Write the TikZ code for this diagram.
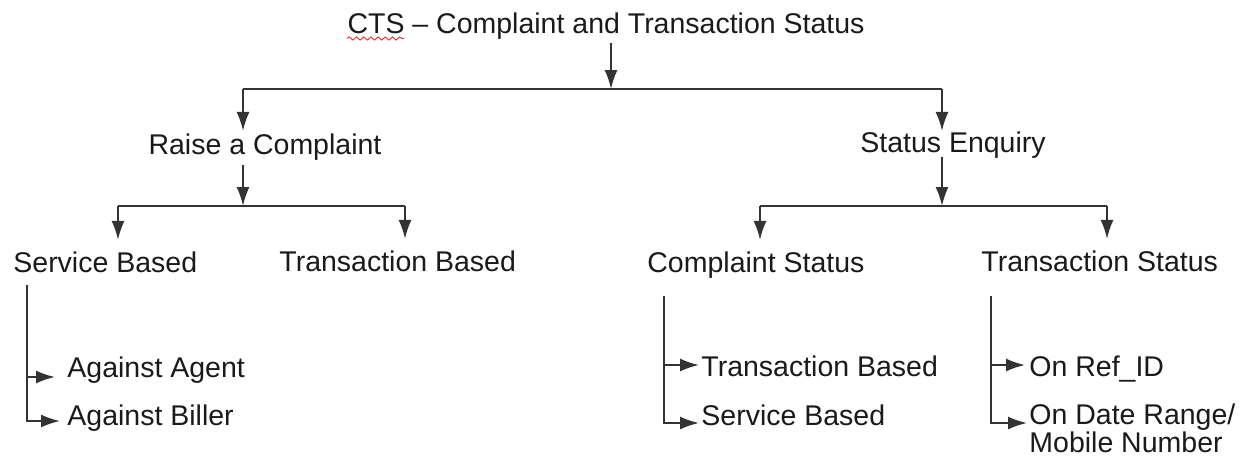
\documentclass[tikz,border=0pt]{standalone}
\usepackage{fontspec}
\setmainfont{Liberation Sans}
\usetikzlibrary{arrows.meta,decorations.pathmorphing}
\definecolor{txt}{HTML}{1A1A1A}
\definecolor{ln}{HTML}{333333}
\tikzset{
  lbl/.style={inner sep=0pt, text=txt, font=\fontsize{14.25}{14.25}\selectfont},
  conn/.style={draw=ln, line width=1pt},
  arr/.style={conn, -{Latex[length=9.5pt,width=6.5pt]}},
  spell/.style={draw=red!85, line width=0.45pt, decorate, decoration={snake, amplitude=0.8pt, segment length=3.6pt}}
}
\begin{document}
\begin{tikzpicture}[x=0.5pt,y=-0.5pt]
\path[use as bounding box, fill=white] (0,0) rectangle (1245,457);

% nodes
\node[lbl, anchor=base] (title) at (606,33) {CTS – Complaint and Transaction Status};
\node[lbl, anchor=base] (raise) at (265,154) {Raise a Complaint};
\node[lbl, anchor=base] (status) at (953,152) {Status Enquiry};
\node[lbl, anchor=base west] (sb) at (13,272) {Service Based};
\node[lbl, anchor=base west] (tb) at (279,271) {Transaction Based};
\node[lbl, anchor=base west] (cs) at (647,272) {Complaint Status};
\node[lbl, anchor=base west] (ts) at (981,271) {Transaction Status};
\node[lbl, anchor=base west] (aa) at (67,377) {Against Agent};
\node[lbl, anchor=base west] (ab) at (67,425) {Against Biller};
\node[lbl, anchor=base west] (ctb) at (701,376) {Transaction Based};
\node[lbl, anchor=base west] (csb) at (701,425) {Service Based};
\node[lbl, anchor=base west] (ref) at (1029,376) {On Ref\_ID};
\node[lbl, anchor=base west] (dr) at (1029,424) {On Date Range/};
\node[lbl, anchor=base west] (mob) at (1029,452) {Mobile Number};

% spell-check mark under CTS
\coordinate (sp1) at (347,38.5);
\coordinate (sp2) at (404,38.5);
\draw[spell] (sp1) -- (sp2);

% junction coordinates
\coordinate (j0) at (611,89);
\coordinate (jl) at (243,89);
\coordinate (jr) at (942,89);
\coordinate (k1) at (243,206);
\coordinate (k1l) at (118,206);
\coordinate (k1r) at (405,206);
\coordinate (k2) at (942,206);
\coordinate (k2l) at (760,206);
\coordinate (k2r) at (1107,206);
\coordinate (t1) at (27,285);
\coordinate (t2) at (664,296);
\coordinate (t3) at (991,296);

% level 1
\draw[arr] ([yshift=-2pt]title.south -| j0) -- (j0);
\draw[conn] (jl) -- (jr);
\draw[arr] (jl) -- ([yshift=1pt]jl |- raise.north);
\draw[arr] (jr) -- (jr |- status.north);

% level 2 left
\draw[arr] ([yshift=-2.5pt]raise.south -| k1) -- (k1);
\draw[conn] (k1l) -- (k1r);
\draw[arr] (k1l) -- ([yshift=5.5pt]k1l |- sb.north);
\draw[arr] (k1r) -- ([yshift=5.5pt]k1r |- tb.north);

% level 2 right
\draw[arr] ([yshift=0.5pt]status.south -| k2) -- (k2);
\draw[conn] (k2l) -- (k2r);
\draw[arr] (k2l) -- ([yshift=5.5pt]k2l |- cs.north);
\draw[arr] (k2r) -- ([yshift=5.5pt]k2r |- ts.north);

% sub branches
\draw[arr] (t1) |- ([xshift=-6pt]aa.base west);
\draw[arr] (t1) |- ([xshift=-3.5pt,yshift=2pt]ab.base west);
\draw[arr] (t2) |- ([xshift=-1pt,yshift=5.5pt]ctb.base west);
\draw[arr] (t2) |- ([xshift=-1pt,yshift=1pt]csb.base west);
\draw[arr] (t3) |- ([xshift=-2pt,yshift=5.5pt]ref.base west);
\draw[arr] (t3) |- ([xshift=-1pt,yshift=0.5pt]dr.base west);
\end{tikzpicture}
\end{document}
